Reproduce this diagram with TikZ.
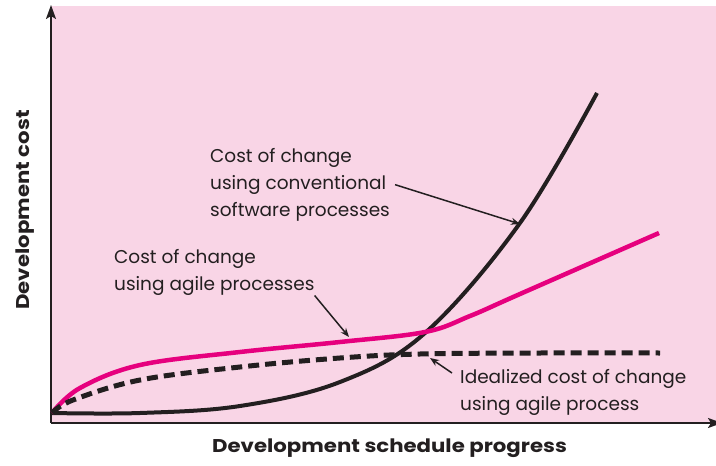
\documentclass[tikz,border=0pt]{standalone}
\usepackage{fontspec}
\setmainfont{Poppins}
\newfontfamily\titlefont[FakeStretch=1.15]{Poppins}
\usetikzlibrary{arrows.meta}
\definecolor{bgpink}{RGB}{249,213,230}
\definecolor{agilepink}{RGB}{230,0,126}
\definecolor{inkblack}{RGB}{35,31,32}

\begin{document}
\begin{tikzpicture}[x=1pt, y=-1pt,
    axis/.style={draw=inkblack, line width=2pt, -{Stealth[length=14pt,width=10pt,inset=3pt]}},
    pointer/.style={draw=inkblack, line width=1.5pt, -{Stealth[length=9pt,width=7pt]}},
    note/.style={align=left, inner sep=0pt, anchor=north west, text=inkblack,
        font=\fontsize{18.5}{27}\selectfont},
    title/.style={inner sep=0pt, anchor=base, text=inkblack,
        font=\titlefont\fontsize{18.5}{22}\selectfont\bfseries}]
    \useasboundingbox (0,0) rectangle (716,466);
    \fill[bgpink] (51,6) rectangle (716,423);
    % axes
    \coordinate (origin) at (51,423);
    \coordinate (yTop) at (51,5);
    \coordinate (xEnd) at (722,423);
    \draw[axis] (origin) -- (yTop);
    \draw[axis] (origin) -- (xEnd);
    % curves
    \draw[inkblack, line width=4pt] plot[smooth, tension=0.6] coordinates
        {(52,413) (140,413) (240,406) (340,382) (425,333) (520,223) (597,93)};
    \draw[agilepink, line width=4.5pt] plot[smooth, tension=0.6] coordinates
        {(52,413) (80,388) (140,365) (240,352) (340,342) (425,332) (470,316) (520,294) (659,233)};
    \draw[inkblack, line width=5pt, dash pattern=on 11pt off 6pt] plot[smooth, tension=0.6] coordinates
        {(52,413) (73,400) (140,380) (240,367) (340,358) (420,354) (540,353) (660,353)};
    % labels
    \node[note] (convLbl) at (210,148) {Cost of change\\using conventional\\software processes};
    \node[note] (agileLbl) at (114,249) {Cost of change\\using agile processes};
    \node[note] (idealLbl) at (460,369) {Idealized cost of change\\using agile process};
    \coordinate (convTip) at (520,224);
    \coordinate (agileTip) at (349,337);
    \coordinate (idealTip) at (430,358);
    \draw[pointer] ([xshift=5pt]convLbl.east) -- (convTip);
    \draw[pointer] (agileLbl.south east) -- (agileTip);
    \draw[pointer] ([xshift=-8pt,yshift=-4pt]idealLbl.north west) -- (idealTip);
    \node[title] (xLbl) at (389.5,452) {Development schedule progress};
    \node[title, rotate=90] (yLbl) at (29,210) {Development cost};
\end{tikzpicture}
\end{document}
